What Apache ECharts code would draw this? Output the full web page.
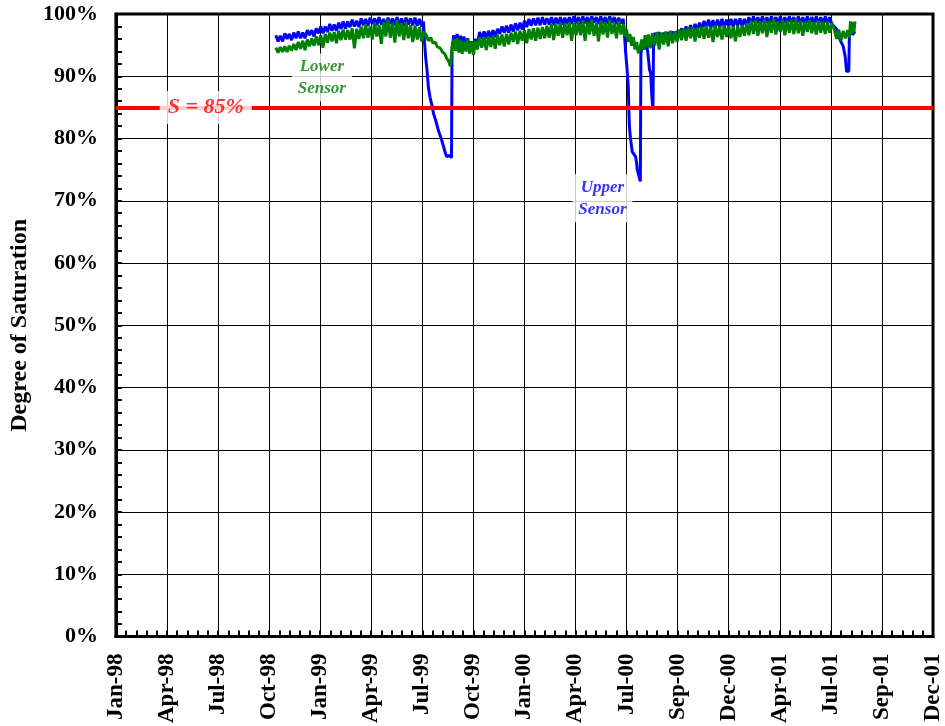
<!DOCTYPE html>
<html>
<head>
<meta charset="utf-8">
<script src="https://cdn.jsdelivr.net/npm/echarts@6/dist/echarts.min.js"></script>
<style>
html,body{margin:0;padding:0;background:#fff;}
#chart{width:945px;height:726px;}
</style>
</head>
<body>
<div id="chart"></div>
<script>
// x values: days since 1 Jan 1998
const xTickLabels = ['Jan-98','Apr-98','Jul-98','Oct-98','Jan-99','Apr-99','Jul-99','Oct-99','Jan-00','Apr-00','Jul-00','Sep-00','Dec-00','Apr-01','Jul-01','Sep-01','Dec-01'];
const xTickStep = 91;

const upperSensor = [
[285,96.6],[289,95.6],[293,96.5],[297,95.6],[301,96.9],[305,96.0],[309,96.8],[313,95.8],[317,97.0],[321,96.1],[325,97.2],[329,96.1],[333,97.0],[337,96.1],[341,97.4],[345,96.6],[349,97.4],[353,96.4],[357,97.7],[361,96.9],[365,98.0],[369,96.9],[373,98.0],[377,97.1],[381,98.4],[385,97.3],[389,98.3],[393,97.3],[397,98.6],[401,97.6],[405,98.8],[409,97.6],[413,98.8],[417,97.9],[421,99.1],[425,98.0],[429,98.9],[433,97.9],[437,99.3],[441,98.2],[445,99.2],[449,98.1],[453,99.4],[457,98.4],[461,99.3],[465,98.2],[469,99.5],[473,98.3],[477,99.2],[481,98.1],[485,99.4],[489,98.4],[493,99.3],[497,98.2],[501,99.5],[505,98.2],[509,99.3],[513,98.0],[517,99.4],[521,98.3],[525,99.3],[529,98.2],[533,99.4],[537,98.1],[541,99.2],[545,98.0],[548,98.8],
[550,95.4],[552,93.0],[554.6,90.8],[557,88.1],[560,86.5],[563.7,85.1],[566,84.0],[569.6,83.0],[574,81.5],[578.5,80.3],[581,79.6],[583.8,78.7],[586,78.0],[589.2,77.1],[592.7,76.9],[595,77.3],[598,76.9],[599,94.2],
[602,96.6],[605,94.8],[608,96.8],[611,95.0],[614,96.5],[617,94.6],[620,96.4],[623,94.8],[627,96.1],[630,93.7],[633,95.6],[636,94.4],[640,96.0],[644,95.0],
[648,97.1],[652,96.0],[656,97.2],[660,96.1],[664,97.3],[668,96.2],[672,97.4],[676,96.3],[680,97.6],
[684,96.8],[688,98.0],[692,97.0],[696,98.1],[700,97.0],[704,98.3],[708,97.2],[712,98.5],[716,97.4],[720,98.6],[724,97.5],
[728,98.9],[732,97.9],[736,99.2],[740,98.1],[744,99.3],[748,98.2],[752,99.4],[756,98.2],[760,99.5],[764,98.3],[768,99.3],[772,98.3],[776,99.5],[780,98.2],[784,99.4],[788,98.4],[792,99.5],[796,98.3],[800,99.4],[804,98.4],[808,99.5],
[812,98.4],[816,99.6],[820,98.5],[824,99.5],[828,98.4],[832,99.6],[836,98.5],[840,99.5],[844,98.4],[848,99.6],[852,98.6],[856,99.5],[860,98.4],[864,99.6],[868,98.5],[872,99.5],[876,98.4],[880,99.6],[884,98.6],[888,99.5],[892,98.4],[896,99.4],[900,98.5],[904,99.2],
[906,97.0],[908,94.2],[911,91.0],[913,88.3],[914,85.0],[915,81.9],[917,80.0],[920,77.9],[923,77.5],[926,77.1],[928,76.0],[929,75.0],[932,74.0],[934.5,73.1],[935.5,93.7],
[938,95.0],[941,94.3],[943,95.6],[945,95.2],[947.6,94.0],[951,91.0],[953,90.5],[955,86.7],[957,84.6],[958,95.4],
[961,97.0],[964,95.5],[968,97.1],[972,95.6],[976,97.0],[980,95.6],[984,97.1],[988,95.8],[992,97.2],[996,96.0],[1000,97.3],
[1004,96.5],[1008,97.7],[1012,96.7],[1016,98.0],[1020,96.9],[1024,98.2],[1028,97.1],[1032,98.4],[1036,97.3],[1040,98.6],
[1044,97.6],[1048,98.9],[1052,97.7],[1056,99.1],[1060,97.8],[1064,99.0],[1068,97.7],[1072,99.1],[1076,97.9],[1080,99.2],[1084,97.8],[1088,99.1],
[1092,98.0],[1096,99.2],[1100,98.0],[1104,99.2],[1108,98.1],[1112,99.3],[1116,98.0],[1120,99.2],[1124,98.1],
[1128,99.5],[1132,98.3],[1136,99.6],[1140,98.4],[1144,99.5],[1148,98.3],[1152,99.6],[1156,98.4],[1160,99.5],[1164,98.3],[1168,99.6],[1172,98.5],[1176,99.5],[1180,98.4],[1184,99.6],[1188,98.3],[1192,99.5],[1196,98.4],[1200,99.6],[1204,98.5],[1208,99.5],[1212,98.3],[1216,99.6],[1220,98.4],[1224,99.5],[1228,98.4],[1232,99.6],[1236,98.3],[1240,99.5],[1244,98.5],[1248,99.6],[1252,98.4],[1256,99.5],[1260,98.3],[1264,99.6],[1268,98.4],[1272,99.5],[1276,98.3],
[1280,98.0],[1284,97.6],[1287,97.8],[1290.5,95.8],[1293,95.5],[1296,94.8],[1299.5,93.2],[1302,90.8],[1306,90.8],[1307,96.9],[1310,97.3],[1313,96.7],[1317,97.2]
];

const lowerSensor = [
[285,94.6],[289,93.8],[293,94.7],[297,93.9],[301,94.8],[305,93.9],[309,94.9],[313,94.1],[317,95.2],[321,94.2],[325,95.5],[329,94.4],[333,95.7],[337,94.2],[341,95.9],[345,94.8],[349,96.1],[353,94.9],[357,96.4],[361,95.0],[365,96.6],[369,94.6],[373,96.8],[377,95.4],[381,97.0],[385,95.6],[389,97.1],[393,95.3],[397,97.3],[401,95.8],[405,97.5],[409,95.9],[413,97.4],[417,95.9],[421,97.7],[425,94.5],[429,97.6],[433,96.0],[437,98.0],[441,96.1],[445,98.3],[449,96.2],[453,98.0],[457,95.9],[461,98.6],[465,96.4],[469,98.2],[473,95.2],[477,98.7],[481,96.4],[485,99.1],[489,96.2],[493,98.6],[497,95.4],[501,99.0],[505,96.4],[509,98.5],[513,95.8],[517,98.7],[521,96.1],[525,98.2],[529,95.5],[533,98.1],[537,95.9],[541,97.9],[545,95.6],[549,97.2],
[553,96.6],[557,95.7],[561,96.2],[565,95.3],[569,95.5],[573,94.7],[578,94.5],[582,93.9],[586,93.6],[590,92.8],[593,92.4],[596,91.6],[598,91.8],[599,94.8],
[602,95.9],[605,94.1],[608,96.1],[611,93.8],[614,95.8],[617,93.6],[620,95.6],[623,94.0],[627,95.9],[630,93.7],[634,95.5],[637,93.4],[641,95.7],[644,94.3],
[648,96.2],[652,94.6],[656,96.3],[660,94.2],[664,96.4],[668,94.7],[672,96.5],[676,94.4],[680,96.6],[684,95.0],[688,96.7],[692,94.8],[696,96.8],[700,95.1],
[704,97.0],[708,95.5],[712,97.2],[716,95.2],[720,97.3],[724,95.7],[728,97.4],[732,95.3],[736,97.6],[740,95.9],[744,97.7],[748,95.7],[752,97.8],[756,96.0],[760,97.9],
[764,96.1],[768,98.1],[772,96.2],[776,98.4],[780,95.8],[784,98.3],[788,96.5],[792,98.6],[796,96.2],[800,98.5],[804,96.6],[808,98.7],[812,95.7],[816,98.5],[820,96.6],
[824,98.8],[828,96.6],[832,99.0],[836,95.7],[840,98.7],[844,96.7],[848,99.1],[852,96.5],[856,98.5],[860,95.6],[864,98.9],[868,96.7],[872,98.7],[876,96.2],[880,99.1],[884,96.8],[888,98.6],[892,96.1],[896,98.9],[900,96.7],[904,98.4],
[907,96.4],[910,97.5],[913,95.5],[916,96.8],[919,94.9],[922,96.3],[925,94.3],[928,95.5],[931,93.7],[934,94.6],
[937,95.9],[940,94.3],[943,96.6],[946,94.7],[949,96.7],[952,94.5],[956,96.9],[960,94.9],[964,97.1],[968,94.3],[972,97.0],[976,95.1],[980,97.2],[984,94.8],[988,97.3],[992,95.3],[996,97.2],[1000,95.5],
[1004,97.5],[1008,95.8],[1012,97.7],[1016,95.7],[1020,97.8],[1024,96.1],[1028,97.9],[1032,95.6],[1036,97.8],[1040,96.2],
[1044,98.0],[1048,96.0],[1052,98.1],[1056,96.2],[1060,97.9],[1064,95.5],[1068,98.2],[1072,96.3],[1076,98.0],[1080,95.9],[1084,98.2],[1088,96.3],[1092,98.1],[1096,96.1],[1100,98.0],[1104,95.6],[1108,98.1],[1112,96.3],[1116,98.2],[1120,96.5],[1124,98.5],
[1128,96.6],[1132,98.9],[1136,96.8],[1140,99.0],[1144,96.5],[1148,98.8],[1152,96.9],[1156,99.1],[1160,96.3],[1164,98.9],[1168,97.0],[1172,99.2],[1176,96.7],[1180,98.8],[1184,97.1],[1188,99.1],[1192,96.6],[1196,98.9],[1200,97.0],[1204,99.0],[1208,96.8],[1212,99.2],[1216,96.9],[1220,98.9],[1224,96.5],[1228,98.8],[1232,97.1],[1236,99.0],[1240,96.9],[1244,98.7],[1248,96.7],[1252,98.9],[1256,97.0],[1260,98.8],[1264,96.8],[1268,98.7],[1272,97.0],[1276,98.5],
[1280,97.6],[1284,96.0],[1288,97.5],[1292,95.7],[1296,97.3],[1300,96.1],[1304,97.4],[1307,96.2],
[1309,98.8],[1311,96.8],[1313,98.7],[1315,97.0],[1317,98.8]
];

const thresholdValue = 85;
const annotations = [
  {text: 'S = 85%', day: 160, value: 85, color: '#ff0000', size: 22},
  {text: 'Lower\nSensor', day: 367, value: 89.8, color: '#008000', size: 17},
  {text: 'Upper\nSensor', day: 867, value: 70.4, color: '#0000ff', size: 17}
];

const FONT = '"Liberation Serif", "Times New Roman", serif';
const chart = echarts.init(document.getElementById('chart'), null, {renderer: 'canvas'});

chart.setOption({
  backgroundColor: '#ffffff',
  animation: false,
  grid: {left: 115, right: 12, top: 14, bottom: 88, show: true, borderColor: '#000', borderWidth: 3, backgroundColor: 'transparent'},
  xAxis: {
    type: 'value', min: 0, max: xTickStep * (xTickLabels.length - 1), interval: xTickStep,
    axisLine: {show: true, lineStyle: {color: '#000', width: 3}},
    axisTick: {show: true, inside: true, length: 6, lineStyle: {color: '#000', width: 2}},
    minorTick: {show: true, splitNumber: 5, length: 6, lineStyle: {color: '#000', width: 2}},
    splitLine: {show: true, lineStyle: {color: '#000', width: 1}},
    axisLabel: {
      rotate: 90, margin: 17, color: '#000', fontFamily: FONT, fontWeight: 'bold', fontSize: 23,
      formatter: v => xTickLabels[Math.round(v / xTickStep)] || ''
    }
  },
  yAxis: {
    type: 'value', min: 0, max: 100, interval: 10,
    name: 'Degree of Saturation', nameLocation: 'middle', nameRotate: 90, nameGap: 83,
    nameTextStyle: {color: '#000', fontFamily: FONT, fontWeight: 'bold', fontSize: 24},
    axisLine: {show: true, lineStyle: {color: '#000', width: 3}},
    axisTick: {show: true, inside: true, length: 6, lineStyle: {color: '#000', width: 2}},
    minorTick: {show: true, splitNumber: 5, length: 6, lineStyle: {color: '#000', width: 2}},
    splitLine: {show: true, lineStyle: {color: '#000', width: 1}},
    axisLabel: {margin: 18, color: '#000', fontFamily: FONT, fontWeight: 'bold', fontSize: 22, formatter: '{value}%'}
  },
  series: [
    {
      name: 'Upper Sensor', type: 'line', data: upperSensor, showSymbol: false, symbol: 'none',
      lineStyle: {color: '#0000ff', width: 3}, z: 2
    },
    {
      name: 'Lower Sensor', type: 'line', data: lowerSensor, showSymbol: false, symbol: 'none',
      lineStyle: {color: '#008000', width: 3}, z: 3
    },
    {
      name: 'Threshold', type: 'line', data: [], z: 4,
      markLine: {
        silent: true, symbol: 'none', animation: false,
        lineStyle: {color: '#ff0000', width: 4, type: 'solid'},
        label: {show: false},
        data: [{yAxis: thresholdValue}]
      }
    },
    {
      name: 'Labels', type: 'scatter', z: 10, symbolSize: 0, silent: true,
      data: annotations.map(a => ({
        value: [a.day, a.value],
        label: {
          show: true, position: 'inside', formatter: a.text,
          color: a.color, fontFamily: FONT, fontWeight: 'bold', fontStyle: 'italic',
          fontSize: a.size, lineHeight: a.size + 5, align: 'center', verticalAlign: 'middle',
          backgroundColor: '#ffffff', padding: a.size > 20 ? [3, 8, 3, 8] : [2, 6, 2, 6]
        }
      }))
    }
  ]
});
</script>
</body>
</html>
